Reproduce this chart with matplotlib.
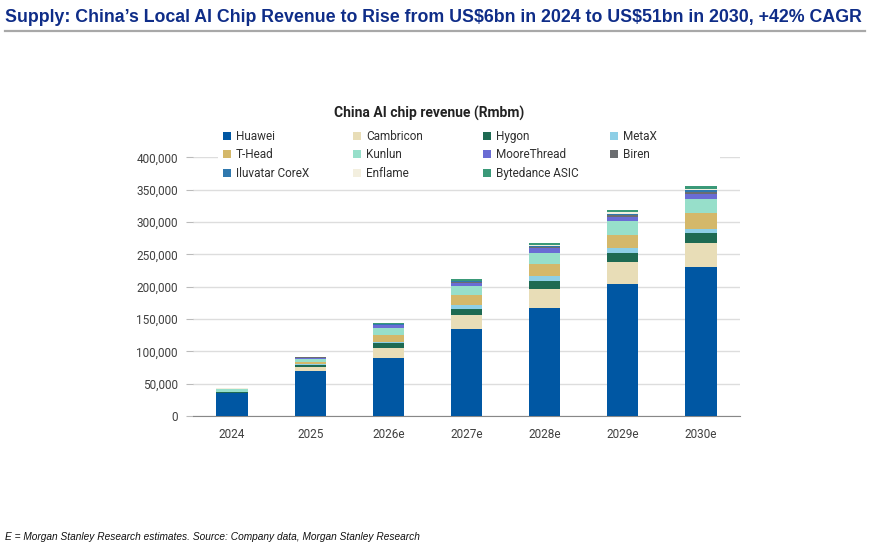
import matplotlib
matplotlib.use("Agg")
import matplotlib.pyplot as plt
from matplotlib.patches import Patch, Rectangle
from matplotlib.lines import Line2D
from matplotlib.ticker import FuncFormatter
import numpy as np

# China AI chip revenue, Rmb m
years = ['2024', '2025', '2026e', '2027e', '2028e', '2029e', '2030e']
huawei = [35000, 69000, 89000, 134000, 167000, 204000, 230000]
cambricon = [1200, 7000, 15400, 22600, 29800, 34400, 37000]
hygon = [500, 3000, 7700, 8200, 11800, 14400, 15400]
metax = [300, 1500, 2600, 7200, 7700, 7700, 6700]
thead = [500, 2500, 10300, 14400, 19000, 20000, 25000]
kunlun = [4000, 5500, 11800, 14400, 17000, 21000, 21000]
moorethread = [500, 1500, 3500, 5000, 6700, 6200, 7700]
biren = [300, 500, 1000, 1500, 2000, 3000, 3600]
iluvatar = [200, 300, 800, 1000, 1500, 2000, 2600]
enflame = [200, 300, 500, 1000, 1500, 2000, 2600]
bytedance = [100, 200, 600, 2500, 3000, 4000, 3600]

names = ['Huawei', 'Cambricon', 'Hygon', 'MetaX', 'T-Head', 'Kunlun',
         'MooreThread', 'Biren', 'Iluvatar CoreX', 'Enflame', 'Bytedance ASIC']
series = [huawei, cambricon, hygon, metax, thead, kunlun,
          moorethread, biren, iluvatar, enflame, bytedance]
colors = ['#0057A3', '#E8DDB7', '#1E6A52', '#8ECFE6', '#D4B86A', '#97DFCA',
          '#6A6CD4', '#6B6D70', '#2F78AE', '#F3EFDF', '#3A9978']

fig = plt.figure(figsize=(8.69, 5.54), dpi=100)
ax = fig.add_axes([193/869, 1-416/554, (740-193)/869, (416-157.3)/554])

x = np.arange(len(years))
bottom = np.zeros(len(years))
for vals, c, n in zip(series, colors, names):
  ax.bar(x, vals, 0.4, bottom=bottom, color=c, label=n, zorder=3)
  bottom += np.asarray(vals)

ax.set_xlim(-0.5, 6.5)
ax.set_ylim(0, 400000)
ax.set_yticks(np.arange(0, 400001, 50000))
ax.yaxis.set_major_formatter(FuncFormatter(lambda v, p: '{:,.0f}'.format(v)))
ax.set_xticks(x)
ax.set_xticklabels(years)
ax.grid(axis='y', color='#DDDDDD', lw=1, zorder=0)
for s in ['top', 'right', 'left']:
  ax.spines[s].set_visible(False)
ax.spines['bottom'].set_color('#888888')
ax.tick_params(axis='y', length=5, color='#BBBBBB', labelsize=8.5, labelcolor='#404040', pad=6)
ax.tick_params(axis='x', length=0, labelsize=8.5, labelcolor='#404040', pad=9)
for t in ax.get_xticklabels() + ax.get_yticklabels():
  t.set_fontfamily('Roboto')

# white block behind the legend, it hides the top gridline like in the source
fig.add_artist(Rectangle((218/869, 1-180/554), (720-218)/869, 55/554, transform=fig.transFigure,
                         facecolor='white', edgecolor='none', zorder=4))

# legend is row-major in the reference, one legend per column so the columns sit where they should
handles = [Patch(facecolor=c, edgecolor='none') for c in colors]
col_x = [222, 352, 482, 609]
for k in range(4):
  idx = list(range(k, len(names), 4))
  leg = fig.legend([handles[i] for i in idx], [names[i] for i in idx],
                   ncol=1, loc='upper left', bbox_to_anchor=(col_x[k]/869, 1-129/554),
                   frameon=False, prop={'family': 'Roboto', 'size': 8.5},
                   handlelength=0.7, handleheight=0.7,
                   handletextpad=0.4, labelspacing=0.45, borderpad=0.1, borderaxespad=0)
  leg.set_zorder(5)
  for t in leg.get_texts():
    t.set_color('#303030')

fig.text(429/869, 1-113/554, 'China AI chip revenue (Rmbm)', ha='center', va='center',
         fontsize=10, fontweight='bold', family='Roboto', color='#222222')

fig.text(5/869, 1-18/554,
         'Supply: China\u2019s Local AI Chip Revenue to Rise from US\\$6bn in 2024 to US\\$51bn in 2030, +42% CAGR',
         ha='left', va='center', fontsize=12.8, fontweight='bold',
         family='Liberation Sans', color='#0F2D88')
fig.add_artist(Line2D([5/869, 865/869], [1-31/554, 1-31/554], color='#A8A8A8', lw=1.6))

fig.text(5/869, 1-537/554,
         'E = Morgan Stanley Research estimates. Source: Company data, Morgan Stanley Research',
         ha='left', va='center', fontsize=7.3, style='italic', family='Liberation Sans', color='#111111')

plt.savefig('out.png', dpi=100)
